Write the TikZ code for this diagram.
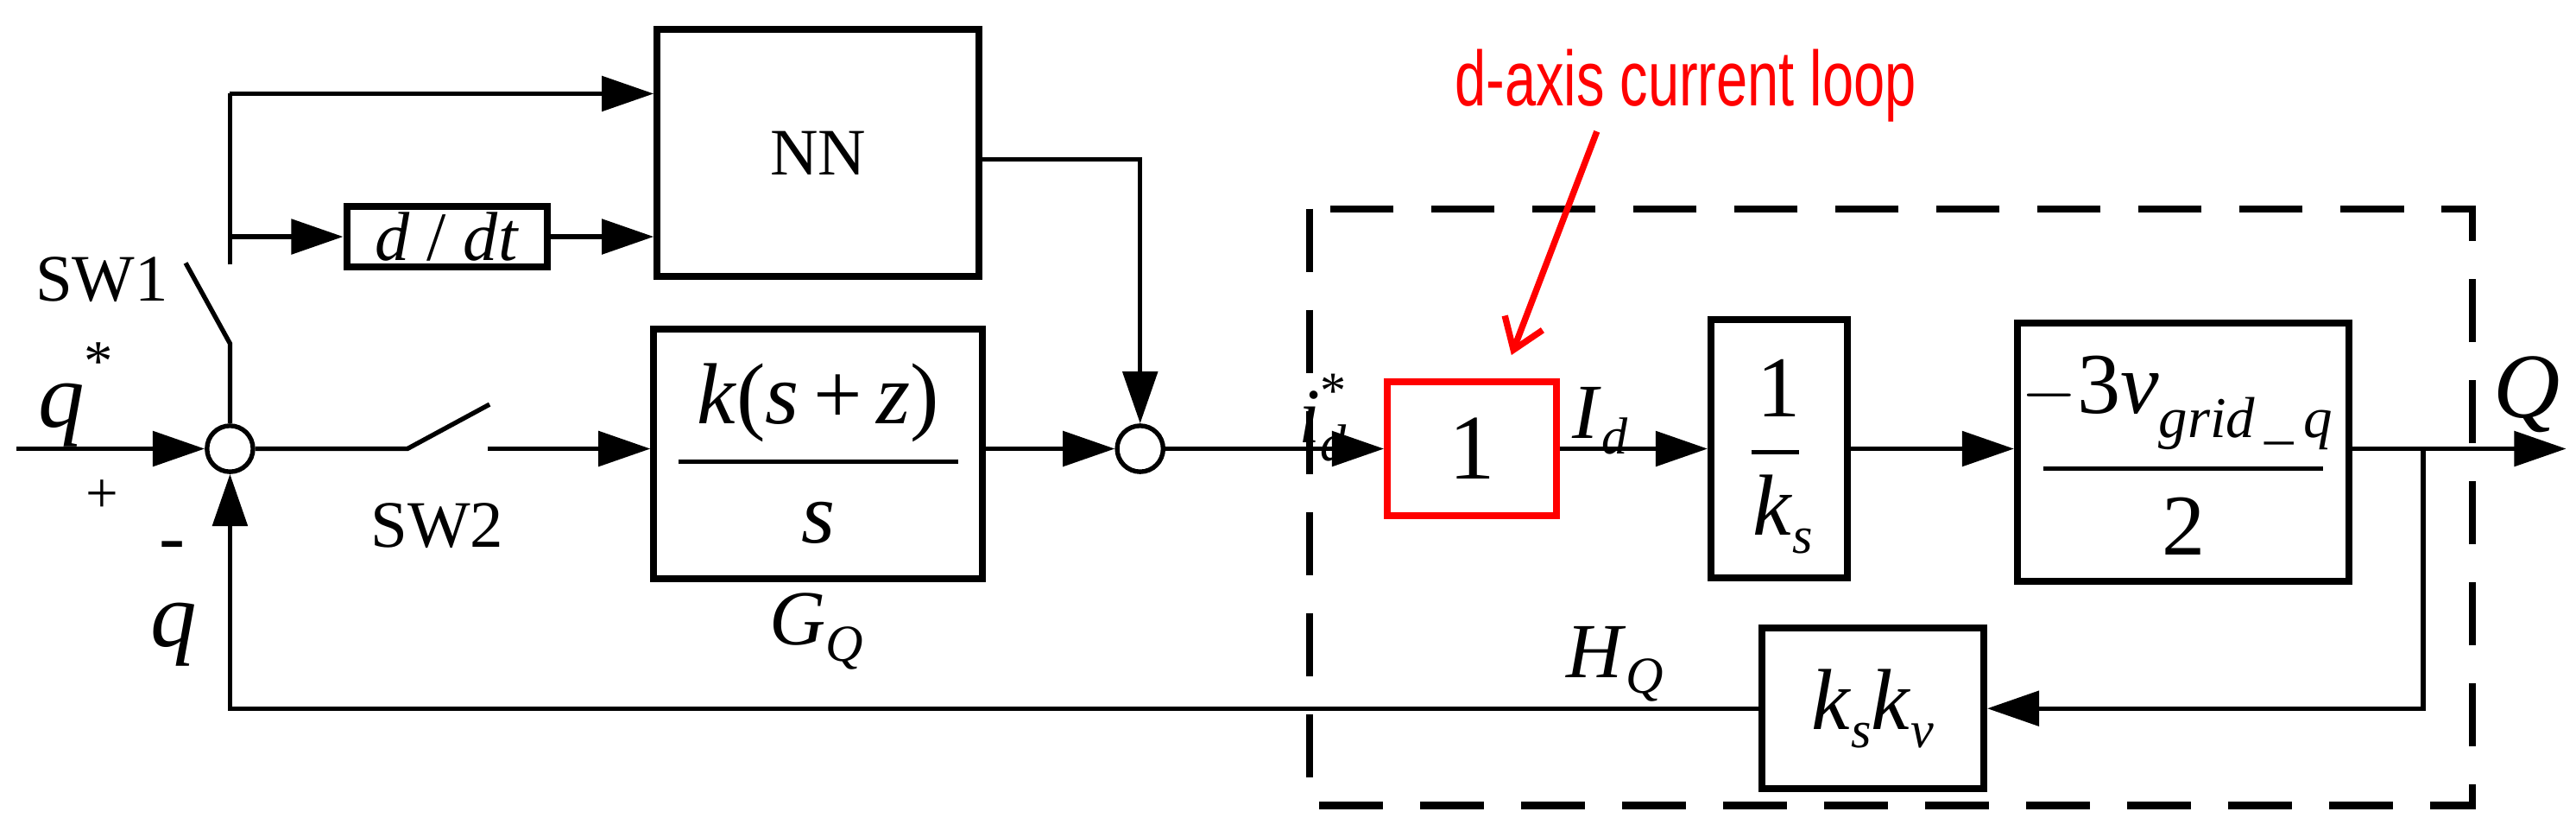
\documentclass[tikz,border=0pt]{standalone}
\usepackage{fontspec}
\setmainfont{Liberation Serif}
\newfontfamily\lsans{Liberation Sans}
\usetikzlibrary{arrows.meta,calc}
\newcommand{\vi}[1]{\textit{#1}}
\newcommand{\sbs}[1]{\raisebox{-0.45ex}{\fontsize{18}{18}\selectfont\textit{#1}}}
\begin{document}
\begin{tikzpicture}[x=0.02cm,y=-0.02cm,
  blk/.style={draw,line width=2.4pt,inner sep=0pt},
  ln/.style={line width=1.6pt},
  arr/.style={ln,-{Triangle[length=18pt,width=12pt]}},
  sumc/.style={draw,circle,line width=1.6pt,minimum size=28*0.02cm,inner sep=0pt},
  lbl/.style={inner sep=0pt,font=\fontsize{27}{29}\selectfont}]
\useasboundingbox (0,0) rectangle (1568,509);
% dashed frame
\draw[line width=2.4pt,dash pattern=on 22pt off 13pt] (797,127) rectangle (1505,490);
% summers
\node[sumc] (s1) at (140,273) {};
\node[sumc] (s2) at (694,273) {};
% blocks
\node[blk,minimum width=196*0.02cm,minimum height=150*0.02cm] (nn) at (498,93) {};
\node[lbl,font=\fontsize{23}{25}\selectfont] at (nn) {NN};
\node[blk,minimum width=122*0.02cm,minimum height=37*0.02cm] (dd) at (272,144) {};
\node[lbl,font=\fontsize{24}{26}\selectfont] at (dd) {\vi{d} / \vi{dt}};
\node[blk,minimum width=200*0.02cm,minimum height=152*0.02cm] (gq) at (498,276) {};
\draw[line width=1.5pt] (413,281) -- (583,281);
\node[lbl,font=\fontsize{30}{32}\selectfont] at (498,245) {\vi{k}(\vi{s}\,+\,\vi{z})};
\node[lbl,font=\fontsize{30}{32}\selectfont] at (498,318) {\vi{s}};
\node[draw=red,line width=2.4pt,minimum width=103*0.02cm,minimum height=81*0.02cm,inner sep=0pt] (r1) at (896,273) {};
\node[lbl,font=\fontsize{32}{34}\selectfont] at (r1) {1};
\node[blk,minimum width=83*0.02cm,minimum height=157*0.02cm] (ks) at (1083,273) {};
\draw[line width=1.5pt] (1066,275) -- (1095,275);
\node[lbl,font=\fontsize{30}{32}\selectfont] at (1083,236) {1};
\node[lbl,font=\fontsize{30}{32}\selectfont] at (1085,313) {\vi{k}\sbs{s}};
\node[blk,minimum width=202*0.02cm,minimum height=157*0.02cm] (vg) at (1329,275) {};
\draw[line width=1.5pt] (1244,285) -- (1414,285);
\node[lbl,font=\fontsize{30}{32}\selectfont] at (1325,245) {$-$3\vi{v}\raisebox{-0.6ex}{\fontsize{20}{20}\selectfont\textit{grid}\,\_\,\textit{q}}};
\node[lbl,font=\fontsize{30}{32}\selectfont] at (1329,320) {2};
\node[blk,minimum width=135*0.02cm,minimum height=98*0.02cm] (kv) at (1140,431) {};
\node[lbl,font=\fontsize{30}{32}\selectfont] at (kv) {\vi{k}\sbs{s}\vi{k}\sbs{v}};
% coordinates
\coordinate (in) at (10,273);
\coordinate (sw1a) at (140,209);
\coordinate (sw1b) at (113,160);
\coordinate (top0) at (140,161);
\coordinate (top1) at (140,57);
\coordinate (br) at (140,144);
\coordinate (sw2a) at (248,273);
\coordinate (sw2b) at (298,246);
\coordinate (sw2c) at (297,273);
\coordinate (nno) at (694,97);
\coordinate (tap) at (1475,273);
\coordinate (out) at (1562,273);
\coordinate (fb) at (1475,431);
\coordinate (fbl) at (140,431);
% connectors
\draw[arr] (in) -- (s1.west);
\draw[ln] (s1.north) -- (sw1a) -- (sw1b);
\draw[ln] (top0) -- (top1);
\draw[arr] (top1) -- (top1 -| nn.west);
\draw[arr] (br) -- (dd.west);
\draw[arr] (dd.east) -- (dd.east -| nn.west);
\draw[ln] (s1.east) -- (sw2a) -- (sw2b);
\draw[arr] (sw2c) -- (gq.west |- sw2c);
\draw[arr] (nn.east |- nno) -- (nno) -- (s2.north);
\draw[arr] (gq.east |- s2) -- (s2.west);
\draw[arr] (s2.east) -- (r1.west);
\draw[arr] (r1.east) -- (ks.west |- r1);
\draw[arr] (ks.east |- r1) -- (vg.west |- r1);
\draw[arr] (vg.east |- r1) -- (out);
\draw[arr] (tap) -- (fb) -- (kv.east);
\draw[arr] (kv.west) -- (fbl) -- (s1.south);
% labels
\node[lbl,font=\fontsize{32}{34}\selectfont] at (46,240) {\vi{q}\raisebox{1.1ex}{\fontsize{20}{20}\selectfont *}};
\node[lbl,font=\fontsize{20}{22}\selectfont] at (62,302) {+};
\node[lbl] at (105,336) {-};
\node[lbl,font=\fontsize{32}{34}\selectfont] at (106,386) {\vi{q}};
\node[lbl,font=\fontsize{23}{25}\selectfont] at (62,170) {SW1};
\node[lbl,font=\fontsize{23}{25}\selectfont] at (266,320) {SW2};
\node[lbl] at (497,384) {\vi{G}\sbs{Q}};
\node[lbl] at (983,404) {\vi{H}\sbs{Q}};
\node[lbl] at (805,254) {\vi{i}\raisebox{-0.5ex}{\fontsize{18}{18}\selectfont\makebox[0pt][l]{\raisebox{2.2ex}{*}}\textit{d}}};
\node[lbl] at (974,256) {\vi{I}\sbs{d}};
\node[lbl,font=\fontsize{32}{34}\selectfont] at (1538,240) {\vi{Q}};
\node[inner sep=0pt,text=red,font=\lsans\fontsize{27}{29}\selectfont] (rt) at (1026,52) {\scalebox{0.72}[1]{d-axis current loop}};
\coordinate (ra) at (972,80);
\coordinate (rb) at (920,216);
\draw[red,line width=2.2pt,-{Straight Barb[length=10pt,width=14pt]}] (ra) -- (rb);
\end{tikzpicture}
\end{document}
